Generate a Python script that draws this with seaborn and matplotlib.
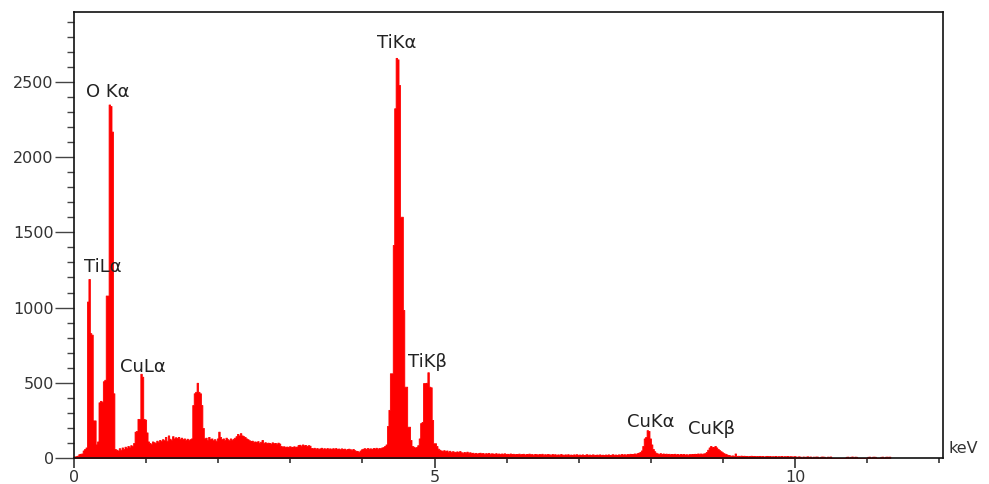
import numpy as np
import pandas as pd
import matplotlib
matplotlib.use("Agg")
import matplotlib.pyplot as plt
from matplotlib.ticker import MultipleLocator
import seaborn as sns

# EDS spectrum, channel width 0.02 keV, channel k starts at 0.02*k keV
channel_width = 0.02

counts_0 = [10, 12, 15, 25, 28, 30, 50, 60, 70, 1040,
            1190, 830, 820, 250, 250, 90, 110, 370, 380, 375,
            510, 520, 1080, 1080, 2350, 2340, 2170, 430, 60, 55,
            50, 65, 55, 70, 60, 75, 65, 80, 70, 85,
            80, 100, 175, 180, 260, 260, 560, 540, 260, 255]
counts_1 = [170, 110, 100, 95, 110, 105, 100, 115, 108, 120,
            112, 125, 118, 140, 115, 150, 128, 120, 145, 130,
            138, 132, 140, 128, 135, 125, 130, 120, 128, 118,
            125, 130, 352, 430, 440, 500, 440, 430, 352, 200,
            130, 135, 120, 140, 125, 130, 118, 125, 115, 130]
counts_2 = [175, 140, 125, 130, 120, 135, 125, 118, 130, 122,
            128, 135, 145, 160, 150, 165, 150, 145, 140, 130,
            125, 118, 112, 115, 108, 110, 105, 112, 100, 108,
            120, 100, 105, 98, 102, 100, 96, 104, 98, 100,
            95, 102, 96, 80, 76, 78, 72, 76, 74, 78]
counts_3 = [75, 72, 78, 74, 76, 86, 88, 82, 90, 84,
            86, 80, 85, 82, 66, 64, 68, 62, 66, 60,
            64, 68, 62, 65, 60, 66, 62, 64, 58, 65,
            62, 66, 60, 63, 58, 64, 60, 62, 56, 60,
            62, 58, 55, 60, 52, 48, 45, 42, 50, 58]
counts_4 = [62, 65, 60, 66, 62, 64, 60, 66, 63, 68,
            62, 66, 64, 70, 72, 80, 90, 213, 320, 563,
            563, 1416, 2325, 2660, 2650, 2480, 1604, 1604, 984, 474,
            474, 208, 208, 120, 80, 75, 70, 72, 85, 130,
            232, 240, 498, 498, 500, 570, 474, 470, 253, 98]
counts_5 = [98, 80, 62, 55, 50, 48, 52, 45, 50, 42,
            48, 40, 45, 42, 38, 44, 40, 46, 38, 35,
            40, 36, 42, 35, 38, 32, 35, 30, 34, 30,
            32, 35, 30, 33, 28, 32, 30, 34, 28, 31,
            30, 27, 32, 28, 30, 26, 30, 28, 31, 27]
counts_6 = [28, 25, 30, 26, 28, 24, 27, 25, 29, 24,
            26, 28, 23, 27, 25, 29, 24, 26, 22, 27,
            25, 23, 26, 24, 28, 22, 25, 23, 26, 24,
            22, 26, 23, 25, 21, 24, 22, 26, 23, 21,
            24, 22, 25, 21, 23, 20, 24, 22, 25, 21]
counts_7 = [23, 21, 24, 20, 22, 25, 21, 23, 20, 24,
            22, 20, 23, 21, 24, 20, 22, 19, 23, 21,
            24, 20, 22, 25, 21, 23, 20, 24, 22, 26,
            23, 25, 22, 26, 24, 28, 25, 27, 30, 28,
            32, 35, 40, 50, 80, 130, 140, 185, 180, 130]
counts_8 = [90, 60, 45, 35, 30, 28, 32, 27, 30, 26,
            29, 25, 28, 24, 27, 25, 28, 24, 26, 23,
            27, 24, 26, 23, 25, 22, 26, 24, 27, 25,
            28, 26, 30, 28, 30, 28, 30, 32, 40, 55,
            70, 80, 72, 74, 80, 70, 60, 52, 45, 38]
counts_9 = [32, 28, 24, 20, 18, 15, 17, 14, 30, 14,
            15, 12, 16, 13, 15, 12, 14, 11, 13, 15,
            12, 14, 11, 13, 12, 14, 11, 13, 10, 12,
            14, 11, 13, 10, 12, 11, 13, 10, 12, 11,
            13, 10, 12, 11, 13, 10, 12, 11, 10, 12]
counts_10 = [10, 8, 11, 9, 0, 10, 8, 9, 11, 8,
             10, 0, 9, 8, 10, 9, 0, 8, 10, 9,
             8, 0, 9, 8, 10, 0, 0, 0, 0, 0,
             0, 0, 0, 0, 0, 8, 9, 0, 8, 10,
             0, 9, 8, 0, 0, 0, 0, 0, 0, 0]
counts_11 = [8, 9, 0, 8, 9, 8, 0, 0, 0, 8, 9, 0, 8, 9, 8, 9]

x_ticks = [0, 5, 10]
y_ticks = [0, 500, 1000, 1500, 2000, 2500]

peak_labels = ["O K\u03b1", "TiL\u03b1", "CuL\u03b1", "TiK\u03b1", "TiK\u03b2", "CuK\u03b1", "CuK\u03b2"]
peak_label_x = [0.166, 0.139, 0.638, 4.198, 4.637, 7.665, 8.52]
peak_label_y = [2435, 1272, 607, 2757, 640, 241, 191]

counts = np.array(counts_0 + counts_1 + counts_2 + counts_3 + counts_4 + counts_5 +
                  counts_6 + counts_7 + counts_8 + counts_9 + counts_10 + counts_11, dtype=float)
n = len(counts)
energy = (np.arange(n) + 0.5) * channel_width
df = pd.DataFrame({"energy": energy, "counts": counts})

sns.set_style("white")
plt.rcParams["font.family"] = ["DejaVu Sans"]

fig = plt.figure(figsize=(9.89, 4.84), dpi=100)
ax = fig.add_axes([74 / 989, 26 / 484, (943 - 74) / 989, (458 - 12) / 484])

sns.histplot(data=df, x="energy", weights="counts", binwidth=channel_width,
             binrange=(0, n * channel_width), element="step",
             fill=True, color="#ff0000", alpha=1.0, linewidth=0.6,
             edgecolor="#ff0000", ax=ax, legend=False)

ax.set_xlim(0, 12.05)
ax.set_ylim(0, 2965)
ax.set_xlabel("")
ax.set_ylabel("")

ax.set_xticks(x_ticks)
ax.set_xticklabels([str(t) for t in x_ticks])
ax.xaxis.set_minor_locator(MultipleLocator(1))
ax.set_yticks(y_ticks)
ax.set_yticklabels([str(t) for t in y_ticks])
ax.yaxis.set_minor_locator(MultipleLocator(100))

ax.tick_params(axis="x", which="major", direction="out", length=7, width=1.1,
               color="#222222", labelsize=11.5, labelcolor="#333333", pad=2, bottom=True)
ax.tick_params(axis="x", which="minor", direction="out", length=3.5, width=1.1,
               color="#222222", bottom=True)
ax.tick_params(axis="y", which="major", direction="out", length=13.5, width=1.0,
               color="#444444", labelsize=11.5, labelcolor="#333333", pad=1, left=True)
ax.tick_params(axis="y", which="minor", direction="out", length=5, width=1.0,
               color="#444444", left=True)

for s in ax.spines.values():
    s.set_visible(True)
    s.set_color("#111111")
    s.set_linewidth(1.2)

for lab, lx, ly in zip(peak_labels, peak_label_x, peak_label_y):
    ax.text(lx, ly, lab, fontsize=13, color="#222222", ha="left", va="center")

ax.text(1.006, 0.022, "keV", transform=ax.transAxes, fontsize=11.5, color="#333333",
        ha="left", va="center")

fig.savefig("out.png", dpi=100)
